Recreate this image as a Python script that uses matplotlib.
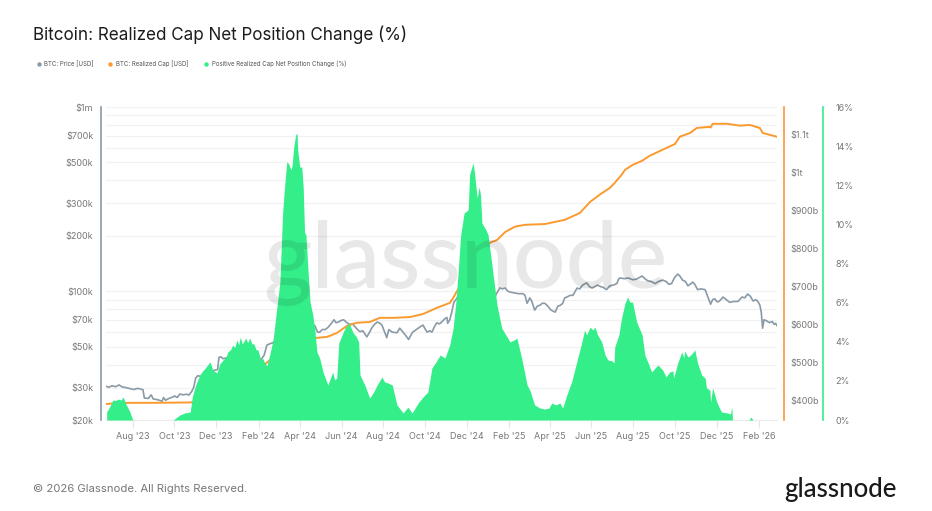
import numpy as np
import pandas as pd
import matplotlib
matplotlib.use("Agg")
import matplotlib.pyplot as plt
import matplotlib.dates as mdates
from matplotlib.lines import Line2D
from matplotlib.ticker import FixedLocator, FixedFormatter, NullFormatter

plt.rcParams['font.family'] = ['Inter', 'DejaVu Sans']

START = pd.Timestamp("2023-06-23")
N_DAYS = 980

# (days since START, value)
price_points = [(0,30500),(4,30100),(9,30700),(14,30300),(19,31000),(24,30200),(29,30000),(35,29600),(41,29300),(46,29700),
    (50,29500),(54,29200),(56,26300),(62,26200),(66,27400),(69,26000),(75,25800),(82,25300),(84,26500),(87,25600),
    (92,26200),(98,26700),(100,27000),(104,26500),(108,27700),(112,27400),(118,27600),(121,27300),(125,28500),(128,30000),
    (131,33800),(134,34800),(138,34500),(143,35500),(149,36000),(155,36800),(158,37200),(163,37600),(165,43800),(168,44000),
    (171,43000),(176,43500),(182,42500),(190,44000),(196,45500),(200,44000),(204,46000),(208,46500),(212,42700),(218,40500),
    (222,39900),(226,42300),(231,45000),(235,51000),(240,52000),(244,52500),(250,56000),(254,62000),(258,66000),(262,68000),
    (266,72000),(270,67000),(274,65000),(279,70000),(283,69000),(288,67000),(293,69000),(297,63000),(301,66000),(305,65000),
    (309,60000),(312,59900),(316,62000),(320,61900),(324,63500),(327,65500),(330,67500),(333,70000),(336,67500),(339,68000),
    (344,69500),(347,70000),(352,67500),(356,66000),(360,66500),(364,64000),(368,61500),(371,60300),(375,61000),(381,56500),
    (385,60000),(388,63000),(392,66000),(396,68000),(400,67000),(403,65500),(407,60000),(410,56000),(413,61900),(418,60000),
    (425,59500),(429,63000),(433,60500),(437,58000),(442,54700),(445,57500),(448,60000),(452,61500),(456,63000),(460,64500),
    (463,65500),(466,62500),(469,60000),(473,61000),(476,60000),(480,64500),(483,67300),(487,66500),(491,68500),(495,71000),
    (498,72000),(499,67000),(502,70000),(505,77000),(508,87000),(512,91000),(517,98000),(525,96000),(531,100000),(537,100500),
    (543,106000),(550,95000),(558,93000),(564,92000),(568,93500),(575,104000),(579,103000),(583,104000),(587,100000),(590,99000),
    (596,98000),(602,97000),(609,97000),(612,95000),(615,86000),(619,92000),(622,88000),(626,79000),(630,83000),(634,84000),
    (637,86000),(641,86000),(644,84000),(650,79000),(656,77000),(660,83000),(664,84000),(667,86000),(670,92000),(673,93000),
    (678,95000),(682,95000),(688,104000),(692,103000),(696,108000),(702,111000),(706,106000),(710,104000),(714,106000),(718,108000),
    (722,106000),(726,105000),(731,102000),(736,107000),(741,108000),(746,110000),(749,117000),(751,118000),(757,117000),(763,118000),
    (769,115500),(774,116000),(778,118000),(783,121000),(787,117000),(791,114000),(796,113000),(802,110000),(807,113000),(813,115000),
    (818,113000),(822,109000),(826,110000),(830,118000),(835,124000),(838,121000),(842,115000),(846,113000),(850,107000),(853,109000),
    (857,112000),(860,109000),(864,102000),(869,103000),(875,102000),(879,93000),(883,85000),(886,90000),(889,91000),(892,88000),
    (894,87500),(898,90000),(901,93000),(906,90000),(911,87000),(917,88000),(923,88000),(929,93000),(933,92000),(937,96500),
    (941,94000),(945,88500),(949,90000),(952,88000),(955,84000),(957,77000),(959,63000),(961,70000),(965,69000),(969,67500),
    (973,68500),(976,66000),(978,67000),(980,65000)]

cap_points = [(1,392),(13,394),(35,395),(64,395),(123,396),(137,400),(161,415),(196,450),(225,485),(254,530),(283,555),(305,565),
    (323,568),(337,578),(352,597),(366,605),(385,607),(400,618),(419,618),(444,620),(463,628),(483,644),(502,657),(507,670),
    (512,686),(531,740),(546,790),(561,815),(571,822),(583,843),(597,857),(612,862),(641,864),(670,875),(692,893),(707,922),
    (721,941),(736,959),(743,972),(753,993),(758,1006),(769,1019),(783,1030),(794,1043),(813,1059),(831,1074),(838,1093),
    (853,1103),(863,1116),(882,1119),(883,1117),(886,1127),(907,1127),(926,1122),(940,1124),(955,1116),(959,1103),(980,1093)]

pos_points = [(1,0.41),(6,0.72),(10,1.02),(14,1.00),(18,1.07),(22,1.02),(25,1.18),(29,0.82),(35,0.41),(39,0),(98,0),(108,0.26),(115,0.36),(123,0.41),
    (126,1.18),(131,1.79),(137,2.30),(141,2.50),(145,2.66),(149,2.84),(152,2.97),(156,2.56),(162,2.40),(166,2.86),(171,3.07),(175,3.20),(178,3.48),(182,3.60),(185,3.83),
    (188,3.70),(191,4.09),(194,3.85),(196,4.24),(199,3.90),(201,3.99),(204,4.19),(207,3.95),(210,4.19),(213,3.90),(216,3.89),(219,3.60),(222,3.58),(226,3.07),(229,3.15),(231,2.97),(235,2.76),
    (239,3.32),(244,4.09),(250,5.88),(254,7.06),(258,10.63),(261,12.01),(264,13.19),(267,13.09),(270,12.78),(272,13.04),(274,13.91),
    (277,14.57),(279,14.67),(280,13.80),(283,12.93),(286,12.93),(288,11.90),(290,9.60),(292,9.46),(295,7.67),(298,6.03),(302,5.37),(305,4.60),
    (308,3.48),(312,3.17),(317,2.45),(324,1.79),(329,2.25),(331,2.45),(334,2.05),(337,2.15),(340,3.94),(349,4.70),(355,4.96),
    (361,4.45),(365,4.29),(369,3.99),(371,2.30),(378,1.79),(385,1.12),(391,1.43),(396,1.79),(403,2.20),(407,1.94),(412,1.89),
    (418,1.79),(425,0.77),(434,0.36),(441,0.66),(447,0.36),(456,0.87),(463,1.18),(470,1.43),(476,2.66),(482,2.97),(488,3.32),
    (495,3.17),(502,3.83),(507,4.70),(511,6.03),(514,7.41),(518,9.46),(523,10.58),(529,10.74),(531,12.53),(536,13.14),
    (538,12.70),(542,11.35),(545,11.91),(547,11.50),(549,10.07),(555,9.71),(558,9.46),(564,7.82),(571,5.88),(578,4.70),(584,4.35),(590,3.99),
    (596,4.09),(600,4.19),(607,3.17),(615,1.79),(619,1.53),(626,0.77),(634,0.61),(641,0.56),(647,0.61),(651,0.87),(657,0.77),
    (663,0.87),(667,0.61),(673,1.28),(680,1.94),(689,3.17),(695,3.99),(699,4.60),(702,4.35),(707,4.75),(711,4.60),(714,4.75),
    (718,4.35),(724,3.99),(729,3.32),(733,3.07),(739,3.02),(742,2.91),(743,3.73),(749,4.35),(753,5.21),(758,5.98),(762,6.29),
    (765,6.03),(769,6.03),(775,5.01),(783,4.35),(787,3.32),(793,2.81),(797,2.45),(802,2.66),(806,2.81),(813,2.56),(818,2.20),
    (823,2.45),(828,2.51),(829,2.15),(835,2.91),(841,3.48),(844,3.17),(845,3.53),(850,3.22),(854,3.32),(860,3.58),(864,2.91),
    (870,2.30),(875,2.15),(877,1.64),(882,1.53),(883,0.92),(886,1.64),(892,0.92),(896,0.61),(899,0.41),(907,0.36),(912,0.31),
    (914,0.66),(915,0),(939,0),(942,0.15),(945,0),(980,0)]

price_ticks = [20e3, 30e3, 50e3, 70e3, 100e3, 200e3, 300e3, 500e3, 700e3, 1e6]
price_labels = ["$20k", "$30k", "$50k", "$70k", "$100k", "$200k", "$300k", "$500k", "$700k", "$1m"]
price_grid = [30e3, 40e3, 50e3, 60e3, 70e3, 80e3, 90e3, 100e3, 200e3, 300e3, 400e3, 500e3, 600e3, 700e3, 800e3, 900e3, 1e6]
cap_ticks = [400, 500, 600, 700, 800, 900, 1000, 1100]
cap_labels = ["$400b", "$500b", "$600b", "$700b", "$800b", "$900b", "$1t", "$1.1t"]
pct_ticks = [0, 2, 4, 6, 8, 10, 12, 14, 16]
date_ticks = ["2023-08-01", "2023-10-01", "2023-12-01", "2024-02-01", "2024-04-01", "2024-06-01", "2024-08-01", "2024-10-01",
              "2024-12-01", "2025-02-01", "2025-04-01", "2025-06-01", "2025-08-01", "2025-10-01", "2025-12-01", "2026-02-01"]

GRAY = "#8a9aa6"
ORANGE = "#fb9a2f"
GREEN = "#34ee8a"
TICKC = "#777777"

W, H = 932, 511


def to_dates(points):
    days, vals = zip(*points)
    return START + pd.to_timedelta(days, unit="D"), np.array(vals, dtype=float)


fig = plt.figure(figsize=(W / 100, H / 100), dpi=100, facecolor="white")
rect = [106 / W, 1 - 420 / H, 671 / W, 313 / H]
ax = fig.add_axes(rect)
ax2 = fig.add_axes(rect, sharex=ax)
ax3 = fig.add_axes(rect, sharex=ax)
for a, z in ((ax, 1), (ax2, 2), (ax3, 3)):
    a.set_zorder(z)
    a.patch.set_visible(False)
    for s in a.spines.values():
        s.set_visible(False)

# price, log scale
x, y = to_dates(price_points)
ax.plot(x, y, color=GRAY, lw=1.2, solid_joinstyle="round")
ax.set_yscale("log")
ax.set_ylim(20e3, 1e6)
ax.set_xlim(START, START + pd.Timedelta(days=N_DAYS))
ax.yaxis.set_major_locator(FixedLocator(price_ticks))
ax.yaxis.set_major_formatter(FixedFormatter(price_labels))
ax.yaxis.set_minor_formatter(NullFormatter())
ax.yaxis.set_minor_locator(FixedLocator([]))
ax.tick_params(axis="y", length=0, pad=5.5, labelsize=6.5, labelcolor=TICKC)
for v in price_grid:
    ax.axhline(v, color="#f1f1f1", lw=0.9, zorder=0)
ax.spines["left"].set_visible(True)
ax.spines["left"].set_position(("outward", 3.6))
ax.spines["left"].set_color(GRAY)
ax.spines["left"].set_linewidth(1.2)
ax.spines["bottom"].set_visible(True)
ax.spines["bottom"].set_color("#ececec")
ax.spines["bottom"].set_linewidth(0.9)

ax.set_xticks(pd.to_datetime(date_ticks))
ax.xaxis.set_major_formatter(mdates.DateFormatter("%b '%y"))
ax.tick_params(axis="x", length=5.5, width=0.8, color="#e6e6e6", pad=3, labelsize=6.5, labelcolor=TICKC)

# realized cap, linear in $b
x, y = to_dates(cap_points)
ax2.plot(x, y, color=ORANGE, lw=1.4)
ax2.set_ylim(350, 1171)
ax2.yaxis.tick_right()
ax2.set_yticks(cap_ticks)
ax2.set_yticklabels(cap_labels)
ax2.tick_params(axis="y", length=0, pad=5, labelsize=6.5, labelcolor=TICKC)
ax2.tick_params(axis="x", length=0, labelbottom=False)
ax2.spines["right"].set_visible(True)
ax2.spines["right"].set_position(("outward", 5))
ax2.spines["right"].set_color(ORANGE)
ax2.spines["right"].set_linewidth(1.2)

# positive net position change, %
x, y = to_dates(pos_points)
ax3.fill_between(x, 0, y, color=GREEN, lw=0)
ax3.set_ylim(0, 16)
ax3.yaxis.tick_right()
ax3.set_yticks(pct_ticks)
ax3.set_yticklabels([f"{t}%" for t in pct_ticks])
ax3.tick_params(axis="y", length=0, pad=9, labelsize=6.5, labelcolor=TICKC)
ax3.tick_params(axis="x", length=0, labelbottom=False)
ax3.spines["right"].set_visible(True)
ax3.spines["right"].set_position(("outward", 33))
ax3.spines["right"].set_color(GREEN)
ax3.spines["right"].set_linewidth(1.2)

# title, legend, footer
fig.text(33 / W, 1 - 35 / H, "Bitcoin: Realized Cap Net Position Change (%)", fontsize=12.27, color="#1c1c1c", va="center")

legend_items = [("BTC: Price [USD]", GRAY, 39), ("BTC: Realized Cap [USD]", ORANGE, 110),
                ("Positive Realized Cap Net Position Change (%)", GREEN, 206)]
for label, col, px in legend_items:
    fig.add_artist(Line2D([px / W], [1 - 64 / H], marker="o", ms=3.2, color=col, mew=0, transform=fig.transFigure))
    fig.text((px + 5.5) / W, 1 - 64 / H, label, fontsize=4.4, color="#555555", va="center")

fig.text(33 / W, 1 - 489 / H, "\u00a9 2026 Glassnode. All Rights Reserved.", fontsize=8.15, color="#777777", va="center")
fig.text(897 / W, 1 - 490 / H, "glassnode", fontsize=18.6, color="#1a1a1a", va="center", ha="right", family="Lato", weight="medium")

# watermark sits over the marks
fig.text(465.5 / W, 1 - 263 / H, "glassnode", fontsize=67, color="black", alpha=0.09, va="center", ha="center",
         family="Lato", weight="medium", zorder=10)

fig.savefig("out.png", dpi=100)
